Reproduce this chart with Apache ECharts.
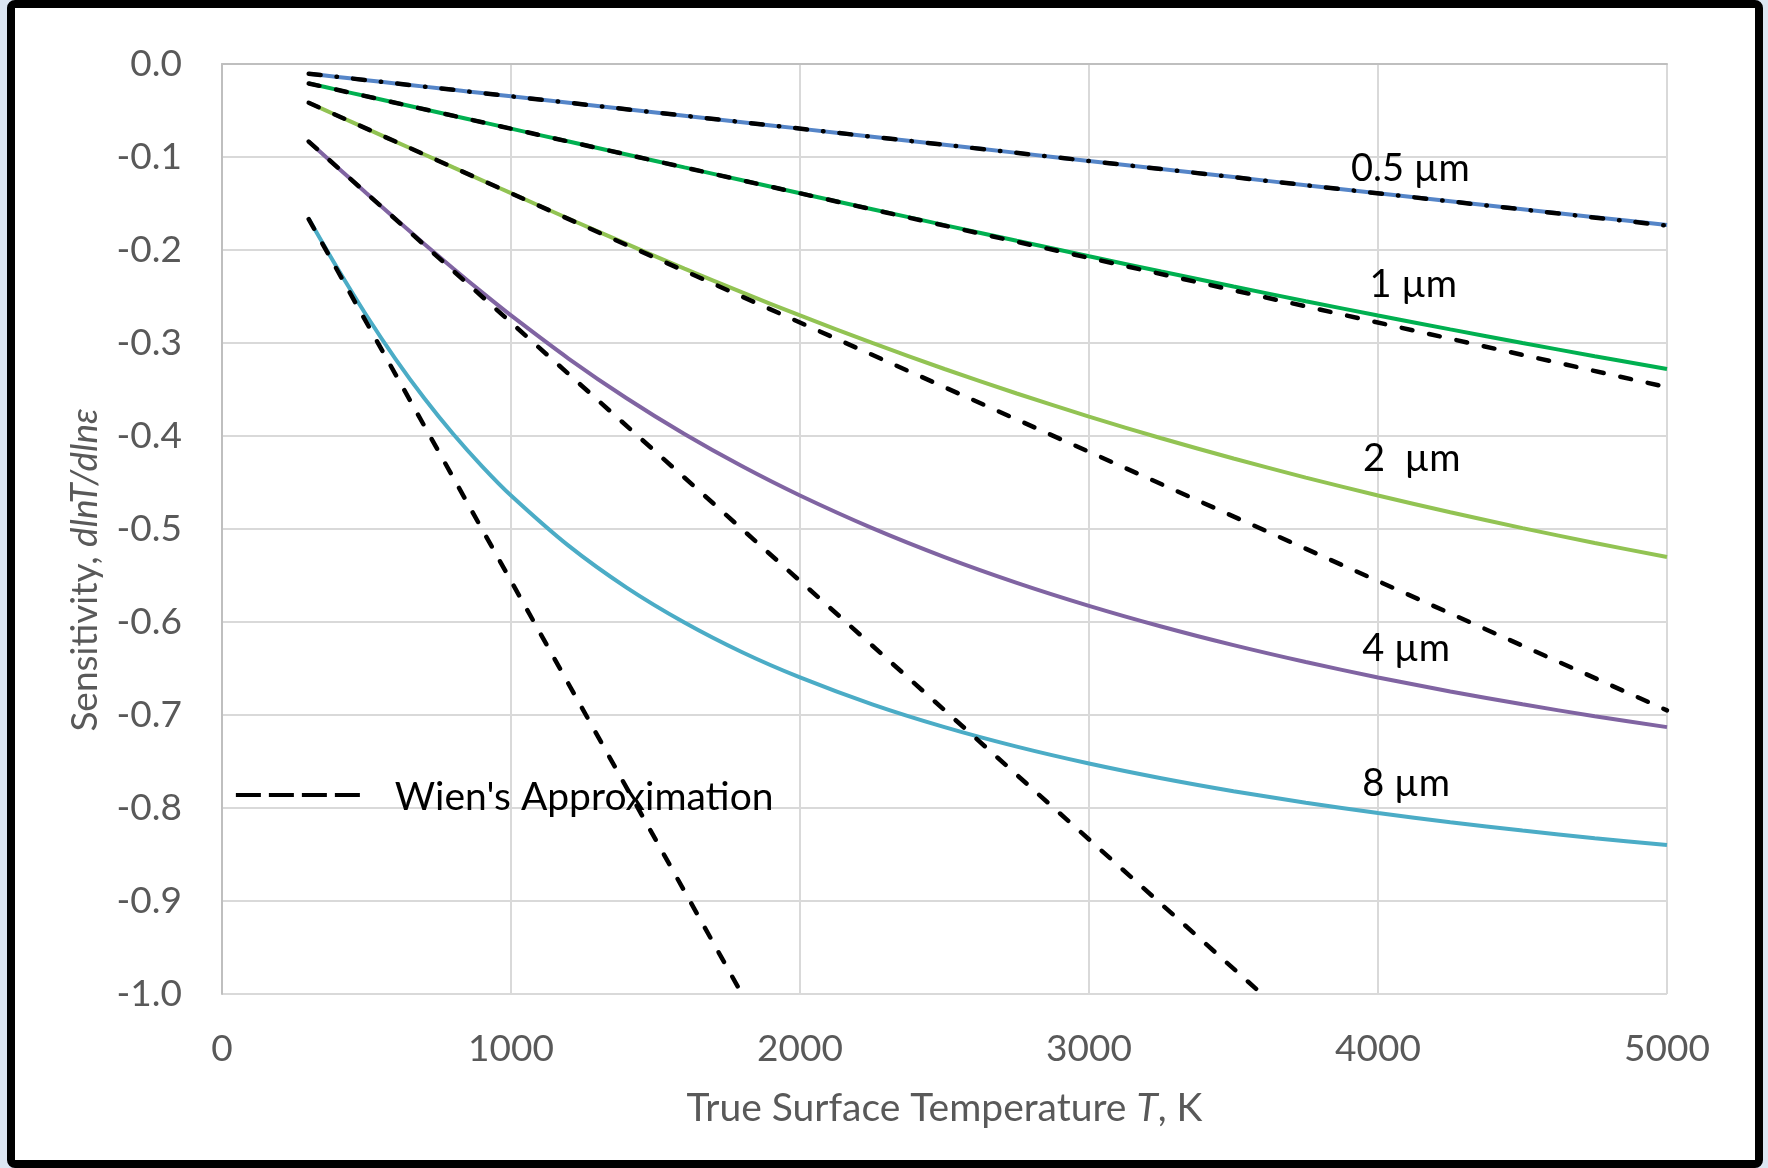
<!DOCTYPE html>
<html>
<head>
<meta charset="utf-8">
<script src="https://cdn.jsdelivr.net/npm/echarts@6/dist/echarts.min.js"></script>
<style>
  html, body { margin: 0; padding: 0; width: 1768px; height: 1168px; overflow: hidden; background: #dce6f2; }
  #frame { position: absolute; left: 7px; top: 0; width: 1756px; height: 1168px; box-sizing: border-box;
           border: 8px solid #000; border-radius: 8px; background: #fff; }
  #chart { position: absolute; left: 0; top: 0; width: 1768px; height: 1168px; }
</style>
</head>
<body>
<div id="frame"></div>
<div id="chart"></div>
<script>
// Temperatures (K) at which the exact curves are read
const temps = [300, 400, 500, 600, 700, 800, 900, 1000, 1200, 1400, 1600, 1800, 2000, 2250, 2500, 2750, 3000, 3250, 3500, 3750, 4000, 4250, 4500, 4750, 5000];

// Exact (Planck) sensitivity curves
const sens05 = [-0.01043, -0.01390, -0.01738, -0.02085, -0.02433, -0.02780, -0.03128, -0.03475, -0.04170, -0.04865, -0.05560, -0.06255, -0.06950, -0.07819, -0.08688, -0.09556, -0.10424, -0.11292, -0.12160, -0.13026, -0.13890, -0.14752, -0.15612, -0.16468, -0.17321];
const sens1 = [-0.02085, -0.02780, -0.03475, -0.04170, -0.04865, -0.05560, -0.06255, -0.06950, -0.08340, -0.09730, -0.11119, -0.12506, -0.13890, -0.15612, -0.17321, -0.19011, -0.20678, -0.22318, -0.23927, -0.25502, -0.27039, -0.28538, -0.29997, -0.31417, -0.32796];
const sens2 = [-0.04170, -0.05560, -0.06950, -0.08340, -0.09730, -0.11119, -0.12506, -0.13890, -0.16639, -0.19347, -0.21993, -0.24561, -0.27039, -0.29997, -0.32796, -0.35432, -0.37911, -0.40239, -0.42422, -0.44472, -0.46396, -0.48204, -0.49904, -0.51505, -0.53015];
const sens4 = [-0.08340, -0.11119, -0.13890, -0.16639, -0.19347, -0.21993, -0.24561, -0.27039, -0.31696, -0.35940, -0.39785, -0.43258, -0.46396, -0.49904, -0.53015, -0.55783, -0.58257, -0.60481, -0.62487, -0.64304, -0.65959, -0.67470, -0.68854, -0.70129, -0.71305];
const sens8 = [-0.16639, -0.21993, -0.27039, -0.31696, -0.35940, -0.39785, -0.43258, -0.46396, -0.51816, -0.56301, -0.60055, -0.63252, -0.65959, -0.68854, -0.71305, -0.73400, -0.75214, -0.76797, -0.78192, -0.79431, -0.80537, -0.81530, -0.82427, -0.83242, -0.83985];

// Wien's approximation (straight lines): end temperatures and values (clipped at the axis)
const wien05T = [300, 5000], wien05 = [-0.0104, -0.1738];
const wien1T  = [300, 5000], wien1  = [-0.0209, -0.3475];
const wien2T  = [300, 5000], wien2  = [-0.0417, -0.6950];
const wien4T  = [300, 3670], wien4  = [-0.0834, -1.020];
const wien8T  = [300, 1835], wien8  = [-0.1668, -1.020];

// Curve labels and their anchor positions (data coordinates)
const curveLabels = ['0.5 µm', '1 µm', '2  µm', '4 µm', '8 µm'];
const labelT = [4112, 4122, 4117, 4097, 4097];
const labelV = [-0.113, -0.2375, -0.424, -0.629, -0.774];

const xTicks = [0, 1000, 2000, 3000, 4000, 5000];
const legendName = "Wien's Approximation";

const colors = ['#5585c8', '#00b050', '#92c353', '#8064a2', '#4bacc6'];
const FONT = 'Lato, "Open Sans", sans-serif';

function zip(xs, ys) { return xs.map((x, i) => [x, ys[i]]); }

const solidSets = [sens05, sens1, sens2, sens4, sens8];
const wienSets = [[wien05T, wien05], [wien1T, wien1], [wien2T, wien2], [wien4T, wien4], [wien8T, wien8]];

const series = [];
solidSets.forEach((s, i) => {
  series.push({
    name: curveLabels[i], type: 'line', data: zip(temps, s), smooth: 0.3,
    symbol: 'none', z: 2, silent: true,
    lineStyle: { color: colors[i], width: 4 }
  });
});
wienSets.forEach((w, i) => {
  series.push({
    name: legendName, type: 'line', data: zip(w[0], w[1]),
    symbol: 'none', z: 3, silent: true, clip: true,
    lineStyle: { color: '#000', width: 4.5, cap: 'round',
      type: i === 0 ? [12, 16, 0.5, 16] : [11, 17] }
  });
});

const chart = echarts.init(document.getElementById('chart'), null, { renderer: 'canvas' });
const option = {
  backgroundColor: 'transparent',
  animation: false,
  grid: { left: 222, right: 101, top: 64, bottom: 174 },
  xAxis: {
    type: 'value', min: 0, max: 5000, interval: 1000,
    name: 'True Surface Temperature {i|T}, K',
    nameLocation: 'middle', nameGap: 95,
    nameTextStyle: { fontFamily: FONT, fontSize: 39, color: '#595959',
      rich: { i: { fontFamily: FONT, fontSize: 39, color: '#595959', fontStyle: 'italic' } } },
    axisLine: { show: true, lineStyle: { color: '#bfbfbf', width: 2 } },
    axisTick: { show: false },
    axisLabel: { fontFamily: FONT, fontSize: 37, color: '#595959', margin: 37,
      formatter: v => (xTicks.indexOf(v) >= 0 ? String(v) : '') },
    splitLine: { show: true, lineStyle: { color: '#d9d9d9', width: 2 } }
  },
  yAxis: {
    type: 'value', min: -1, max: 0, interval: 0.1,
    name: 'Sensitivity, {i|dlnT/dlnε}',
    nameLocation: 'middle', nameGap: 118, nameRotate: 90,
    nameTextStyle: { fontFamily: FONT, fontSize: 37, color: '#595959', padding: [0, 82, 0, 0],
      rich: { i: { fontFamily: FONT, fontSize: 37, color: '#595959', fontStyle: 'italic' } } },
    axisLine: { show: true, lineStyle: { color: '#bfbfbf', width: 2 } },
    axisTick: { show: false },
    axisLabel: { fontFamily: FONT, fontSize: 37, color: '#595959', margin: 40,
      formatter: v => (Math.abs(v) < 1e-9 ? '0.0' : v.toFixed(1)) },
    splitLine: { show: true, lineStyle: { color: '#d9d9d9', width: 2 } }
  },
  series: series
};
chart.setOption(option);

// Curve labels and legend, placed via the chart's coordinate system
const graphics = curveLabels.map((t, i) => {
  const p = chart.convertToPixel({ gridIndex: 0 }, [labelT[i], labelV[i]]);
  return { type: 'text', x: p[0], y: p[1], z: 10, silent: true,
    style: { text: t, fill: '#000', fontFamily: FONT, fontSize: 38, align: 'center', verticalAlign: 'middle' } };
});
const lp = chart.convertToPixel({ gridIndex: 0 }, [48, -0.786]);
graphics.push({ type: 'line', z: 10, silent: true,
  shape: { x1: lp[0], y1: lp[1], x2: lp[0] + 124, y2: lp[1] },
  style: { stroke: '#000', lineWidth: 4, lineDash: [25, 8] } });
graphics.push({ type: 'text', z: 10, silent: true, x: lp[0] + 159, y: lp[1] + 2,
  style: { text: legendName, fill: '#000', fontFamily: FONT, fontSize: 39, align: 'left', verticalAlign: 'middle' } });
chart.setOption({ graphic: graphics });
</script>
</body>
</html>
